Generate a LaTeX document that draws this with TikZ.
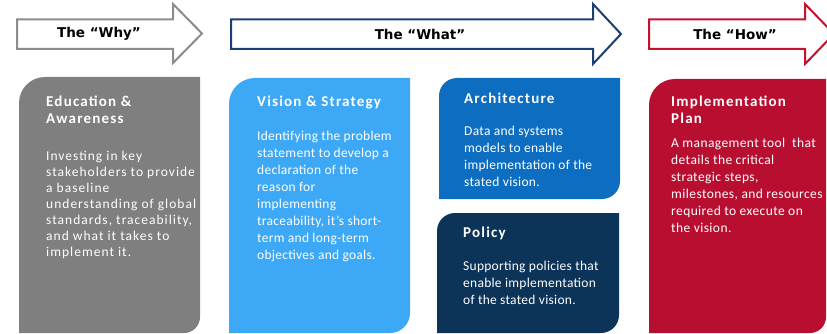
\documentclass[tikz,border=0pt]{standalone}
\usepackage{fontspec}
\usepackage{xcolor}
\usepackage{tikz}
\usetikzlibrary{positioning,calc}
\newfontfamily\bodyfont{Carlito}[LetterSpace=2]
\newfontfamily\bodyplanfont{Carlito}[LetterSpace=3]
\newfontfamily\bodywidefont{Carlito}[LetterSpace=7.5]
\newfontfamily\titlefont{Carlito}[LetterSpace=8]
\newfontfamily\arrowfont{DejaVu Sans}

\definecolor{whygray}{HTML}{7F7F7F}
\definecolor{whyline}{HTML}{8C8C8C}
\definecolor{whatline}{HTML}{1C3F73}
\definecolor{howline}{HTML}{C8102E}
\definecolor{visionblue}{HTML}{3DA8F5}
\definecolor{archblue}{HTML}{0D6DC0}
\definecolor{policynavy}{HTML}{0C3459}
\definecolor{planred}{HTML}{B80F31}

% panel with rounded top-left and bottom-right corners
\newcommand{\panelbox}[7]{%
  \fill[#5] (#1,#4) [rounded corners=#6] -- (#1,#2) [sharp corners] -- (#3,#2)
    [rounded corners=#7] -- (#3,#4) [sharp corners] -- cycle;}

\begin{document}
\begin{tikzpicture}[x=1pt, y=-1pt,
    phase/.style={line width=2pt, fill=white},
    phaselabel/.style={font=\arrowfont\bfseries\fontsize{13.5}{16}\selectfont, text=black},
    paneltitle/.style={anchor=north west, inner sep=0pt, align=left, text=white,
      font=\titlefont\bfseries\fontsize{15}{17}\selectfont},
    paneltext/.style={anchor=north west, inner sep=0pt, align=left, text=white}]
    \useasboundingbox (0,0) rectangle (827,334);
    \clip (0,0) rectangle (827,334);

    % Phase arrows
    \draw[phase, draw=whyline] (17,19.5) -- (173,19.5) -- (173,4) -- (202,33.5) -- (173,63) -- (173,49) -- (17,49) -- cycle;
    \draw[phase, draw=whatline] (231,19.5) -- (593,19.5) -- (593,4) -- (621,34) -- (593,64) -- (593,49) -- (231,49) -- cycle;
    \draw[phase, draw=howline] (649,19.5) -- (805,19.5) -- (805,4) -- (834,34) -- (805,64) -- (805,49) -- (649,49) -- cycle;
    \node[phaselabel] (why) at (99,34) {The “Why”};
    \node[phaselabel] (what) at (420,34) {The “What”};
    \node[phaselabel] (how) at (735,34) {The “How”};

    % Panels
    \panelbox{19}{77}{200}{333}{whygray}{26pt}{16pt}
    \panelbox{229}{78}{410}{333}{visionblue}{26pt}{20pt}
    \panelbox{439}{78}{620}{199}{archblue}{18pt}{18pt}
    \panelbox{437}{213}{619}{333}{policynavy}{18pt}{18pt}
    \panelbox{649}{79}{826}{333}{planred}{26pt}{16pt}

    % Panel texts
    \node[paneltitle] (edu) at (46,96) {Education \&\\Awareness};
    \node[paneltext, font=\bodywidefont\fontsize{13.5}{16}\selectfont] (edutext) at (46,151) {Investing in key\\stakeholders to provide\\a baseline\\understanding of global\\standards, traceability,\\and what it takes to\\implement it.};

    \node[paneltitle] (vision) at (257,96) {Vision \& Strategy};
    \node[paneltext, font=\bodyfont\fontsize{13.5}{17}\selectfont] (visiontext) at (257,131) {Identifying the problem\\statement to develop a\\declaration of the\\reason for\\implementing\\traceability, it’s short-\\term and long-term\\objectives and goals.};

    \node[paneltitle] (arch) at (464,93) {Architecture};
    \node[paneltext, font=\bodyfont\fontsize{13.5}{17}\selectfont] (archtext) at (464,126) {Data and systems\\models to enable\\implementation of the\\stated vision.};

    \node[paneltitle] (policy) at (463,227) {Policy};
    \node[paneltext, font=\bodyfont\fontsize{13.5}{17}\selectfont] (policytext) at (463,261) {Supporting policies that\\enable implementation\\of the stated vision.};

    \node[paneltitle] (plan) at (671,96) {Implementation\\Plan};
    \node[paneltext, font=\bodyplanfont\fontsize{13.5}{17}\selectfont] (plantext) at (671,138) {A management tool~ that\\details the critical\\strategic steps,\\milestones, and resources\\required to execute on\\the vision.};
\end{tikzpicture}
\end{document}
